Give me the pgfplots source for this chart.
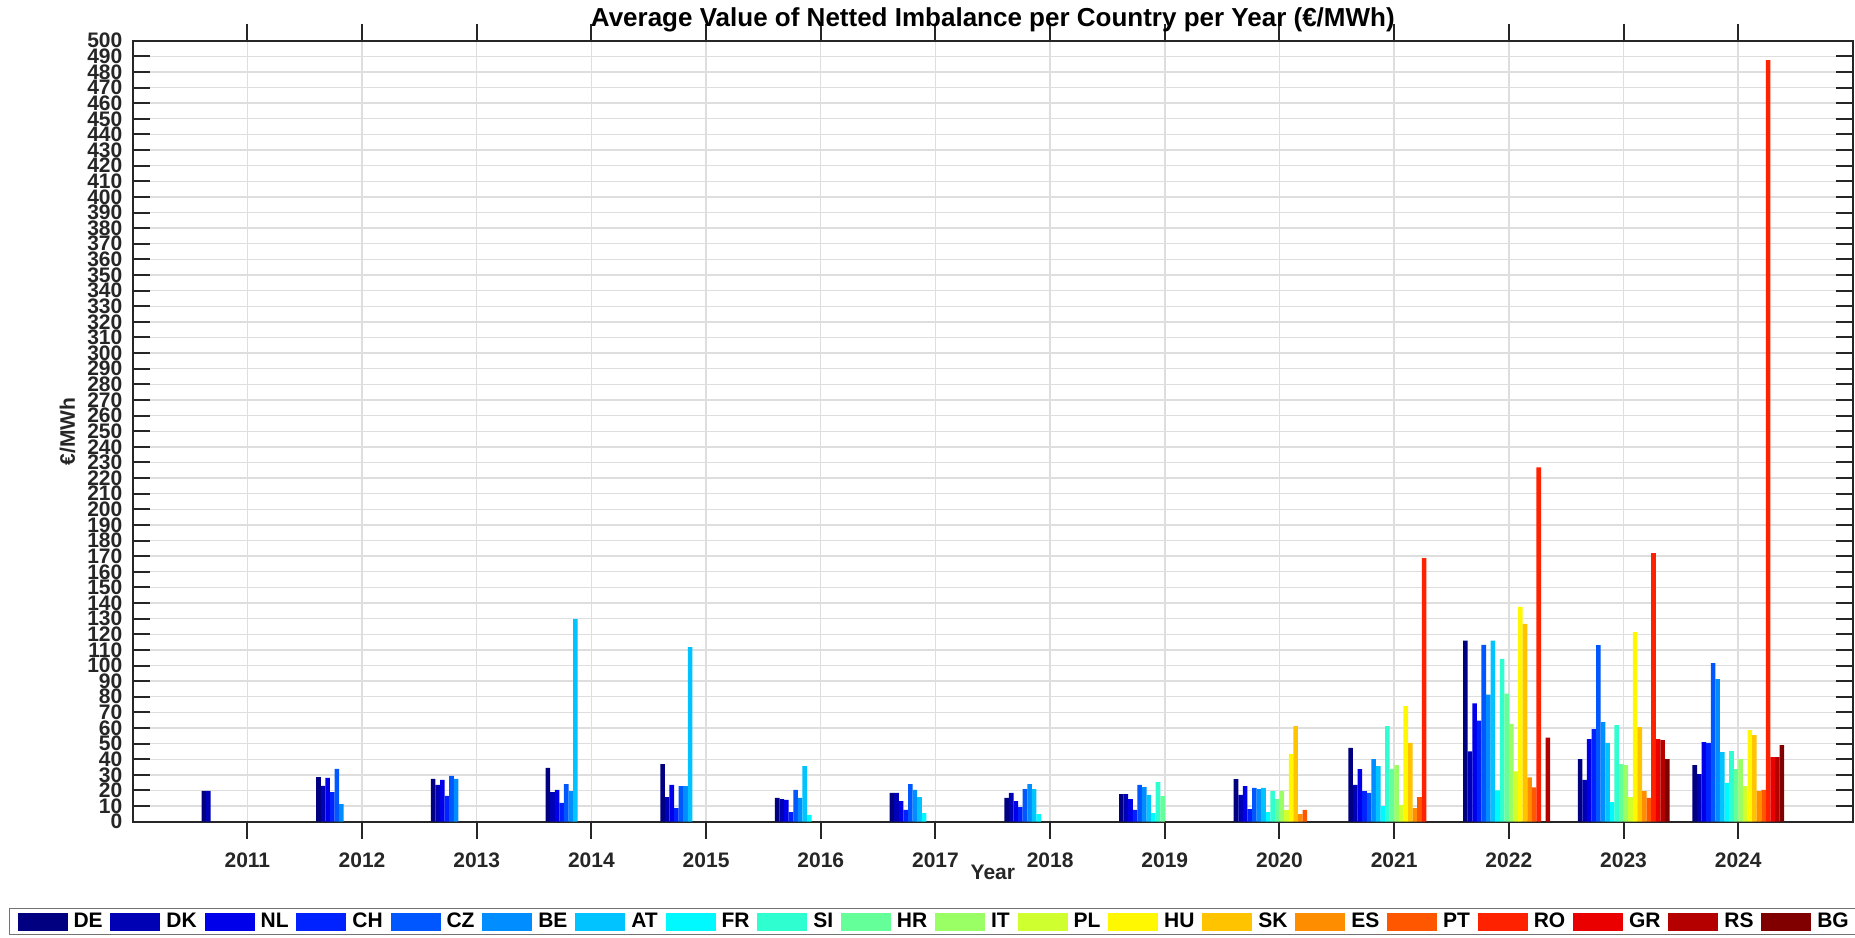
\documentclass[border=0pt]{standalone}
\usepackage{fontspec}
\setmainfont{Liberation Sans}
\usepackage{pgfplots}
\pgfplotsset{compat=1.18}
\usepackage{pgfplotstable}
\newcommand\fs{\bfseries\fontsize{10.5}{12}\selectfont}
\newcommand\fst{\bfseries\fontsize{13}{15}\selectfont}
\definecolor{axcol}{RGB}{38,38,38}
\definecolor{gridcol}{RGB}{222,222,222}
\definecolor{c1}{RGB}{0,0,128}
\definecolor{c2}{RGB}{0,0,181}
\definecolor{c3}{RGB}{0,0,235}
\definecolor{c4}{RGB}{0,34,255}
\definecolor{c5}{RGB}{0,87,255}
\definecolor{c6}{RGB}{0,141,255}
\definecolor{c7}{RGB}{0,195,255}
\definecolor{c8}{RGB}{0,248,255}
\definecolor{c9}{RGB}{47,255,208}
\definecolor{c10}{RGB}{101,255,154}
\definecolor{c11}{RGB}{154,255,101}
\definecolor{c12}{RGB}{208,255,47}
\definecolor{c13}{RGB}{255,248,0}
\definecolor{c14}{RGB}{255,195,0}
\definecolor{c15}{RGB}{255,141,0}
\definecolor{c16}{RGB}{255,87,0}
\definecolor{c17}{RGB}{255,34,0}
\definecolor{c18}{RGB}{235,0,0}
\definecolor{c19}{RGB}{181,0,0}
\definecolor{c20}{RGB}{128,0,0}
\pgfplotstableread{
year DE DK NL CH CZ BE AT FR SI HR IT PL HU SK ES PT RO GR RS BG
2011 19.8 19.8 nan nan nan nan nan nan nan nan nan nan nan nan nan nan nan nan nan nan
2012 28.6 22.9 28.0 19.0 33.8 11.3 nan nan nan nan nan nan nan nan nan nan nan nan nan nan
2013 27.4 23.5 26.7 16.5 29.3 27.4 nan nan nan nan nan nan nan nan nan nan nan nan nan nan
2014 34.4 19.0 20.3 12.0 24.1 19.6 129.7 nan nan nan nan nan nan nan nan nan nan nan nan nan
2015 36.9 15.8 23.5 8.7 22.8 22.8 111.8 nan nan nan nan nan nan nan nan nan nan nan nan nan
2016 15.2 14.5 13.9 6.2 20.3 15.2 35.6 4.3 nan nan nan nan nan nan nan nan nan nan nan nan
2017 18.4 18.4 13.2 7.5 24.1 20.3 15.8 5.5 nan nan nan nan nan nan nan nan nan nan nan nan
2018 15.2 18.4 13.2 9.4 20.9 24.1 20.9 4.9 nan nan nan nan nan nan nan nan nan nan nan nan
2019 17.7 17.7 14.5 7.5 23.5 22.2 17.1 5.5 25.4 16.4 nan nan nan nan nan nan nan nan nan nan
2020 27.3 17.1 22.8 8.1 21.6 20.9 21.6 6.2 19.6 14.5 19.6 7.5 43.3 61.2 4.9 7.5 nan nan nan nan
2021 47.2 23.5 33.7 19.6 18.4 40.1 35.6 10.0 61.2 33.7 36.3 10.7 74.0 50.4 8.7 15.8 168.8 nan nan nan
2022 115.9 45.0 75.7 64.7 113.2 81.3 115.9 20.0 104.3 82.0 62.7 32.2 137.5 126.7 28.4 21.9 226.9 nan 53.8 nan
2023 40.1 26.7 52.9 59.3 113.1 63.8 50.4 12.6 61.9 36.9 36.3 15.8 121.4 60.6 19.6 15.2 172.0 52.9 52.3 40.1
2024 36.3 30.5 51.0 50.4 101.6 91.3 44.6 24.8 45.2 33.7 40.1 22.8 58.7 55.5 19.6 20.3 487.6 41.4 41.4 49.1
}\datatable
\pgfplotsset{
  layers/barsunder/.define layer set={axis background,axis grid,pre main,main,axis ticks,axis lines,axis tick labels,axis descriptions,axis foreground}{},
}
\begin{document}
\begin{tikzpicture}
\begin{axis}[
  set layers=barsunder,
  at={(0,0)}, anchor=south west,
  scale only axis, width=860.15pt, height=390.5pt,
  xmin=2010, xmax=2025, ymin=0, ymax=500,
  xtick={2011,...,2024}, ytick={0,10,...,500},
  tick align=inside, major tick length=8.5pt,
  every tick/.style={line width=1pt, color=axcol},
  axis line style={line width=1pt, color=axcol},
  xmajorgrids, ymajorgrids,
  major grid style={line width=0.7pt, color=gridcol},
  tick label style={font=\fs, text=axcol},
  /pgf/number format/assume math mode=true,
  /pgf/number format/1000 sep={},
  yticklabel style={anchor=east, inner xsep=0pt, xshift=-5pt},
  xticklabel style={anchor=base, yshift=-14.15pt},
  ybar=0pt, bar width=0.04,
  title={Average Value of Netted Imbalance per Country per Year (€/MWh)},
  title style={font=\fst, text=black, at={(axis description cs:0.5,1)}, anchor=base, yshift=1pt},
  xlabel={Year},
  xlabel style={font=\fs, text=axcol, at={(axis description cs:0.5,0)}, anchor=base, yshift=-28.9pt},
  ylabel={€/MWh},
  ylabel style={font=\fs, text=axcol, at={(axis description cs:-0.0379,0.5)}, anchor=center, rotate=0},
  legend columns=20,
  legend cell align=left,
  legend image code/.code={\fill[#1] (0pt,-4.5pt) rectangle (25pt,4.5pt);},
  legend style={at={(axis description cs:-0.0719,-0.1105)}, anchor=north west,
    font=\fs, text=black, draw=black!55, line width=0.5pt,
    inner xsep=4pt, inner ysep=2pt,
    nodes={inner sep=0pt},
    /tikz/every odd column/.append style={column sep=3pt},
    /tikz/every even column/.append style={column sep=3.9pt}},
]
\addplot[fill=c1, draw=none] table[x=year,y=DE]{\datatable}; \addlegendentry{DE}
\addplot[fill=c2, draw=none] table[x=year,y=DK]{\datatable}; \addlegendentry{DK}
\addplot[fill=c3, draw=none] table[x=year,y=NL]{\datatable}; \addlegendentry{NL}
\addplot[fill=c4, draw=none] table[x=year,y=CH]{\datatable}; \addlegendentry{CH}
\addplot[fill=c5, draw=none] table[x=year,y=CZ]{\datatable}; \addlegendentry{CZ}
\addplot[fill=c6, draw=none] table[x=year,y=BE]{\datatable}; \addlegendentry{BE}
\addplot[fill=c7, draw=none] table[x=year,y=AT]{\datatable}; \addlegendentry{AT}
\addplot[fill=c8, draw=none] table[x=year,y=FR]{\datatable}; \addlegendentry{FR}
\addplot[fill=c9, draw=none] table[x=year,y=SI]{\datatable}; \addlegendentry{SI}
\addplot[fill=c10, draw=none] table[x=year,y=HR]{\datatable}; \addlegendentry{HR}
\addplot[fill=c11, draw=none] table[x=year,y=IT]{\datatable}; \addlegendentry{IT}
\addplot[fill=c12, draw=none] table[x=year,y=PL]{\datatable}; \addlegendentry{PL}
\addplot[fill=c13, draw=none] table[x=year,y=HU]{\datatable}; \addlegendentry{HU}
\addplot[fill=c14, draw=none] table[x=year,y=SK]{\datatable}; \addlegendentry{SK}
\addplot[fill=c15, draw=none] table[x=year,y=ES]{\datatable}; \addlegendentry{ES}
\addplot[fill=c16, draw=none] table[x=year,y=PT]{\datatable}; \addlegendentry{PT}
\addplot[fill=c17, draw=none] table[x=year,y=RO]{\datatable}; \addlegendentry{RO}
\addplot[fill=c18, draw=none] table[x=year,y=GR]{\datatable}; \addlegendentry{GR}
\addplot[fill=c19, draw=none] table[x=year,y=RS]{\datatable}; \addlegendentry{RS}
\addplot[fill=c20, draw=none] table[x=year,y=BG]{\datatable}; \addlegendentry{BG}
\end{axis}
\pgfresetboundingbox
\path[use as bounding box] (-66.35pt,-57.65pt) rectangle (861.15pt,410.85pt);
\end{tikzpicture}
\end{document}
